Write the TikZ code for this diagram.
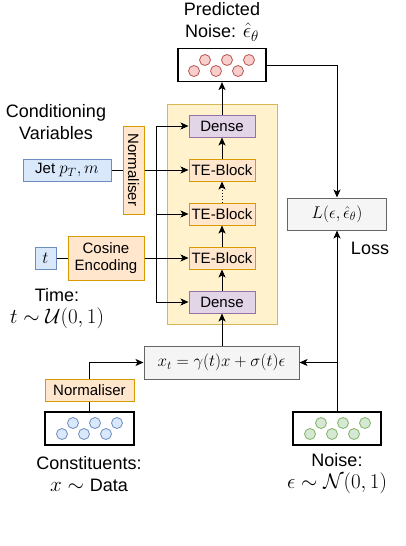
\RequirePackage{fix-cm}
\documentclass[tikz,border=0pt]{standalone}
\usepackage{fontspec}
\setmainfont{Liberation Sans}
\usetikzlibrary{arrows.meta,positioning}
\DeclareMathSizes{15}{17}{12}{9}
\DeclareMathSizes{18}{21}{15}{11}

\definecolor{blueFill}{HTML}{DAE8FC}
\definecolor{blueLine}{HTML}{6C8EBF}
\definecolor{orangeFill}{HTML}{FFE6CC}
\definecolor{orangeLine}{HTML}{D79B00}
\definecolor{purpleFill}{HTML}{E1D5E7}
\definecolor{purpleLine}{HTML}{9673A6}
\definecolor{yellowFill}{HTML}{FFF2CC}
\definecolor{yellowLine}{HTML}{D6B656}
\definecolor{grayFill}{HTML}{F5F5F5}
\definecolor{grayLine}{HTML}{666666}
\definecolor{redFill}{HTML}{F8CECC}
\definecolor{redLine}{HTML}{B85450}
\definecolor{greenFill}{HTML}{D5E8D4}
\definecolor{greenLine}{HTML}{82B366}

\tikzset{
  box/.style={draw, line width=1pt, inner sep=1pt, align=center,
    font=\fontsize{15}{17}\selectfont},
  bluebox/.style={box, fill=blueFill, draw=blueLine},
  orangebox/.style={box, fill=orangeFill, draw=orangeLine},
  densebox/.style={box, fill=purpleFill, draw=purpleLine,
    minimum width=66pt, minimum height=22pt},
  teblock/.style={orangebox, minimum width=66pt, minimum height=22pt},
  graybox/.style={box, fill=grayFill, draw=grayLine},
  setbox/.style={draw=black, line width=1.1pt, fill=white,
    minimum width=88pt, minimum height=33pt},
  lbl/.style={align=center, font=\fontsize{18}{22}\selectfont},
  arr/.style={-{Stealth[length=8pt,width=7pt,inset=2pt]}, line width=0.9pt},
  conn/.style={line width=0.9pt}
}

\begin{document}
\begin{tikzpicture}[x=1pt, y=-1pt]
    \useasboundingbox (0,0) rectangle (405,546);

    % Network container
    \node[draw=yellowLine, fill=yellowFill, line width=1pt,
      minimum width=110pt, minimum height=220pt] (net) at (222,214) {};

    % Network blocks
    \node[densebox] (denseT) at (222,126) {Dense};
    \node[teblock] (teA) at (222,170) {TE-Block};
    \node[teblock] (teB) at (222,214) {TE-Block};
    \node[teblock] (teC) at (222,258) {TE-Block};
    \node[densebox] (denseB) at (222,302) {Dense};

    % Point sets
    \node[setbox] (pred) at (222,65) {};
    \node[setbox, minimum width=89pt] (cons) at (89.5,428.5) {};
    \node[setbox] (noise) at (337,428.5) {};
    \foreach \i in {0,...,5} {
      \pgfmathsetmacro{\dy}{mod(\i,2)==0 ? 0 : -11}
      \draw[redLine, fill=redFill, line width=0.8pt] (194+11*\i, 71+\dy) circle (5.5);
      \draw[blueLine, fill=blueFill, line width=0.8pt] (62+11*\i, 434+\dy) circle (5.5);
      \draw[greenLine, fill=greenFill, line width=0.8pt] (310+11*\i, 434+\dy) circle (5.5);
    }

    % Conditioning inputs
    \node[bluebox, minimum width=88pt, minimum height=22pt] (jet) at (67,170) {Jet $p_T, m$};
    \node[orangebox, minimum width=21pt, minimum height=88pt] (normC) at (133.5,170)
      {\rotatebox{-90}{Normaliser}};
    \node[bluebox, minimum width=21pt, minimum height=22pt] (tin) at (45.5,258) {$t$};
    \node[orangebox, minimum width=76pt, minimum height=44pt] (cosenc) at (106,258)
      {Cosine\\Encoding};

    % Diffusion and loss
    \node[graybox, minimum width=155pt, minimum height=33pt] (xt) at (221.5,362.5)
      {$x_t = \gamma(t)x + \sigma(t)\epsilon$};
    \node[graybox, minimum width=99pt, minimum height=32pt] (loss) at (337,214)
      {$L(\epsilon, \hat{\epsilon}_\theta)$};
    \node[orangebox, minimum width=89pt, minimum height=22pt] (normX) at (89.5,390) {Normaliser};

    % Labels
    \node[lbl] (predLbl) at (222,22) {Predicted\\Noise: $\hat{\epsilon}_\theta$};
    \node[lbl] (condLbl) at (56,122) {Conditioning\\Variables};
    \node[lbl] (timeLbl) at (57,309) {Time:\\$t\sim\mathcal{U}(0,1)$};
    \node[lbl] (lossLbl) at (370,248) {Loss};
    \node[lbl] (consLbl) at (89,474) {Constituents:\\$x\sim{}$Data};
    \node[lbl] (noiseLbl) at (337,474) {Noise:\\$\epsilon\sim\mathcal{N}(0,1)$};

    % Network flow
    \draw[arr] (xt.north -| denseB.south) -- (denseB.south);
    \draw[arr] (denseB) -- (teC);
    \draw[arr] (teC) -- (teB);
    \draw[arr, dotted] (teB) -- (teA);
    \draw[arr] (teA) -- (denseT);
    \draw[arr] (denseT) -- (pred);

    % Conditioning bus
    \coordinate (bus) at (156,170);
    \draw[conn] (jet.east) -- (normC.west);
    \draw[arr] (normC.east) -- (teA.west);
    \draw[arr] (bus) |- (denseT.west);
    \draw[arr] (bus) |- (teB.west);
    \draw[arr] (bus) |- (denseB.west);
    \draw[conn] (tin.east) -- (cosenc.west);
    \draw[arr] (cosenc.east) -- (teC.west);

    % Loss and noising
    \draw[arr] (pred.east) -| (loss.north);
    \draw[arr] (noise.north) -- (loss.south);
    \coordinate (join) at (noise.north |- xt.east);
    \draw[arr] (join) -- (xt.east);
    \draw[conn] (cons.north) -- (normX.south);
    \draw[arr] (normX.north) |- (xt.west);
\end{tikzpicture}
\end{document}
